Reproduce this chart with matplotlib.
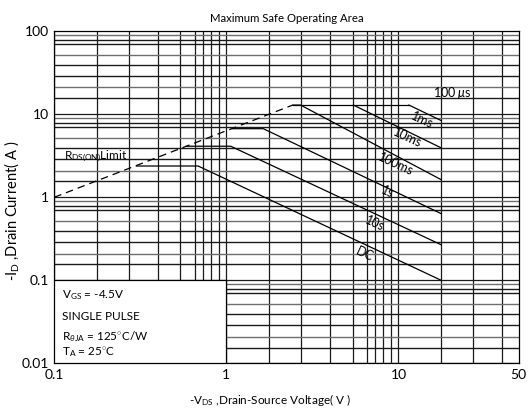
import matplotlib
matplotlib.use("Agg")
import matplotlib.pyplot as plt
from matplotlib.patches import Rectangle

plt.rcParams["font.family"] = ["Lato", "DejaVu Sans"]
plt.rcParams["mathtext.fontset"] = "custom"
plt.rcParams["mathtext.rm"] = "Lato"
plt.rcParams["mathtext.it"] = "Lato:italic"

# grid positions (multipliers inside each decade)
x_grid_mult = [1.77, 2.72, 3.98, 5.41, 6.55, 7.33, 8.16, 9.06]
y_grid_mult = [8.9, 7.9, 7.0, 5.2, 3.9, 2.9, 2.1, 1.55]

x_ticks = [0.1, 1, 10, 50]
x_tick_labels = ["0.1", "1", "10", "50"]
y_ticks = [0.01, 0.1, 1, 10, 100]
y_tick_labels = ["0.01", "0.1", "1", "10", "100"]

# R_DS(on) limit (dashed)
rds_v = [0.1, 2.43]
rds_i = [1.0, 12.9]

# pulsed current ceiling
top_v = [2.43, 11.5]
top_i = [12.9, 12.9]

# SOA curves
curve_v = [
    [11.5, 17.7],            # 1ms
    [5.47, 17.7],            # 10ms
    [2.43, 2.70, 17.7],      # 100ms
    [1.08, 1.64, 17.7],      # 1s
    [0.585, 1.06, 17.7],     # 10s
    [0.30, 0.685, 17.7],     # DC
]
curve_i = [
    [12.9, 8.4],
    [12.9, 3.94],
    [12.9, 12.9, 1.63],
    [6.7, 6.7, 0.635],
    [4.12, 4.12, 0.268],
    [2.38, 2.38, 0.10],
]

label_text = ["1ms", "10ms", "100ms", "1s", "10s", "DC"]
label_v = [13.7, 11.25, 9.66, 8.66, 7.26, 6.37]
label_i = [8.4, 5.14, 2.53, 1.14, 0.484, 0.204]

fig = plt.figure(figsize=(5.29, 4.12), dpi=100)
ax = fig.add_axes([0.1026, 0.1182, 0.878, 0.806])
ax.set_xscale("log")
ax.set_yscale("log")
ax.set_xlim(0.1, 50)
ax.set_ylim(0.01, 100)

for k in [-1, 0, 1]:
    for m in x_grid_mult:
        xv = m * 10 ** k
        if xv < 50:
            ax.axvline(xv, color="#1a1a1a", lw=0.9, zorder=1)
    ax.axvline(10 ** k, color="#1a1a1a", lw=0.9, zorder=1)
for k in [-2, -1, 0, 1]:
    for j, m in enumerate(y_grid_mult):
        c = "#1a1a1a" if j % 3 != 0 else "#6e6e6e"
        ax.axhline(m * 10 ** k, color=c, lw=1.0, zorder=1)
    ax.axhline(10 ** k, color="#1a1a1a", lw=0.9, zorder=1)

ax.plot(rds_v, rds_i, color="black", lw=0.9, ls=(0, (6, 4)), zorder=3)
ax.plot(top_v, top_i, color="black", lw=0.9, zorder=3)
for v, i in zip(curve_v, curve_i):
    ax.plot(v, i, color="black", lw=0.9, zorder=3)
for name, lx, ly in zip(label_text, label_v, label_i):
    ax.text(lx, ly, name, fontsize=9, rotation=-25, ha="center", va="center",
            zorder=4, rotation_mode="anchor")
ax.text(20.7, 18.1, "100 $\\mu$s", fontsize=9, ha="center", va="center", zorder=4)

ax.text(0.114, 3.1, "R$_{\\mathrm{DS(ON)}}$Limit", fontsize=8.5, va="center", zorder=4)

box = Rectangle((0.1, 0.01), 0.9, 0.09, facecolor="white", edgecolor="black", lw=0.9, zorder=5)
ax.add_patch(box)
ax.text(0.111, 0.067, "V$_{\\mathrm{GS}}$ = -4.5V", fontsize=8.5, va="center", zorder=6)
ax.text(0.111, 0.0367, "SINGLE PULSE", fontsize=8.5, va="center", zorder=6)
ax.text(0.111, 0.0212, "R$_{\\theta\\mathrm{JA}}$ = 125$^{\\circ}$C/W", fontsize=8.5, va="center", zorder=6)
ax.text(0.111, 0.0138, "T$_{\\mathrm{A}}$ = 25$^{\\circ}$C", fontsize=8.5, va="center", zorder=6)

ax.set_xticks(x_ticks)
ax.set_xticklabels(x_tick_labels)
ax.set_yticks(y_ticks)
ax.set_yticklabels(y_tick_labels)
ax.minorticks_off()
ax.tick_params(length=0, labelsize=10, pad=4)
for s in ax.spines.values():
    s.set_linewidth(0.9)

ax.set_title("Maximum Safe Operating Area", fontsize=8.2, pad=7)
ax.set_xlabel("-V$_{\\mathrm{DS}}$ ,Drain-Source Voltage( V )", fontsize=8.5)
ax.xaxis.set_label_coords(0.465, -0.085)
ax.set_ylabel("-I$_{\\mathrm{D}}$ ,Drain Current( A )", fontsize=10.5)
ax.yaxis.set_label_coords(-0.072, 0.46)

fig.savefig("out.png", dpi=100)
